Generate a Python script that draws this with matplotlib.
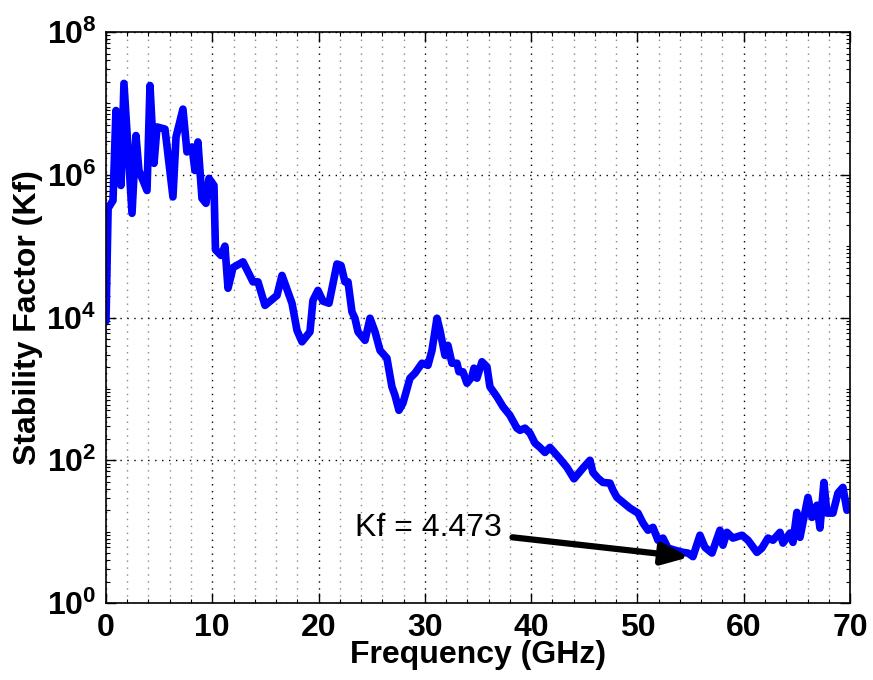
import numpy as np
import matplotlib
matplotlib.use("Agg")
import matplotlib.pyplot as plt
from matplotlib.ticker import FixedLocator, FixedFormatter, MultipleLocator, LogLocator, NullFormatter

plt.rcParams["font.family"] = ["Liberation Sans", "DejaVu Sans"]
plt.rcParams["mathtext.fontset"] = "custom"
plt.rcParams["mathtext.bf"] = "Liberation Sans:bold"
plt.rcParams["mathtext.rm"] = "Liberation Sans"

# frequency in GHz, stability factor (log10 values)
freq = [0.0, 0.2, 0.66, 0.94, 1.41, 1.69, 2.45, 2.82, 3.1, 3.86, 4.14, 4.52, 4.8, 5.55,
        6.3, 6.59, 7.24, 7.62, 8.09, 8.37, 8.65, 9.03, 9.41, 9.69, 10.16, 10.3, 10.82,
        11.19, 11.48, 11.95, 12.89, 13.83, 14.3, 14.96, 16.09, 16.56, 17.5, 17.97, 18.44,
        19.19, 19.47, 19.94, 20.41, 20.98, 21.73, 22.11, 22.48, 22.77, 23.14, 23.42, 23.71,
        24.37, 24.84, 25.31, 25.78, 26.43, 26.9, 27.19, 27.56, 27.94, 28.6, 29.07, 29.73,
        30.29, 30.67, 31.14, 31.42, 31.89, 32.17, 32.55, 33.02, 33.21, 33.58, 33.96, 34.43,
        34.62, 34.9, 35.37, 35.84, 36.12, 36.78, 37.35, 38.0, 38.66, 38.95, 39.42, 39.89,
        40.36, 40.83, 41.3, 41.77, 42.24, 42.71, 43.37, 44.03, 44.87, 45.53, 45.81, 46.28,
        46.75, 47.41, 47.7, 48.07, 48.64, 49.29, 50.05, 50.52, 50.99, 51.46, 51.93, 52.4,
        52.87, 53.53, 54.28, 54.75, 55.22, 55.88, 56.35, 57.01, 57.76, 58.04, 58.42, 58.98,
        59.83, 60.4, 61.24, 61.71, 62.28, 62.75, 63.41, 63.69, 64.35, 64.63, 65.0, 65.29,
        66.04, 66.42, 66.89, 67.17, 67.54, 67.83, 68.39, 68.86, 69.33, 69.71, 70.0]
kf_log = [3.95, 5.53, 5.64, 6.9, 5.85, 7.28, 5.46, 6.55, 6.06, 5.78, 7.25, 6.16, 6.67, 6.64,
          5.69, 6.53, 6.92, 6.32, 6.39, 6.06, 6.46, 5.67, 5.6, 5.95, 5.85, 4.95, 4.87,
          5.0, 4.41, 4.7, 4.78, 4.5, 4.5, 4.17, 4.31, 4.59, 4.2, 3.82, 3.66,
          3.8, 4.24, 4.38, 4.23, 4.2, 4.75, 4.73, 4.5, 4.5, 4.08, 3.99, 3.8,
          3.68, 3.99, 3.8, 3.54, 3.43, 3.03, 2.91, 2.7, 2.8, 3.15, 3.22, 3.36,
          3.33, 3.54, 3.99, 3.82, 3.47, 3.61, 3.36, 3.36, 3.24, 3.24, 3.08, 3.17,
          3.29, 3.15, 3.38, 3.31, 3.03, 2.89, 2.75, 2.63, 2.45, 2.42, 2.45, 2.38,
          2.24, 2.18, 2.11, 2.18, 2.1, 2.02, 1.9, 1.74, 1.89, 2.0, 1.83, 1.75,
          1.69, 1.68, 1.58, 1.48, 1.41, 1.33, 1.26, 1.12, 1.02, 1.06, 0.88, 0.91,
          0.77, 0.74, 0.71, 0.7, 0.65, 0.95, 0.78, 0.7, 1.02, 0.81, 0.99, 0.91,
          0.95, 0.88, 0.71, 0.77, 0.91, 0.88, 0.99, 0.84, 0.98, 0.85, 1.27, 0.92,
          1.48, 1.2, 1.37, 1.05, 1.69, 1.26, 1.26, 1.54, 1.62, 1.3, 1.32]

kf = 10 ** np.array(kf_log)

ytick_vals = [1e0, 1e2, 1e4, 1e6, 1e8]
ytick_labels = [r"$\mathbf{10^{0}}$", r"$\mathbf{10^{2}}$", r"$\mathbf{10^{4}}$",
                r"$\mathbf{10^{6}}$", r"$\mathbf{10^{8}}$"]

fig = plt.figure(figsize=(8.73, 6.8), dpi=100)
ax = fig.add_axes([0.1214, 0.1132, 0.8523, 0.8397])

ax.semilogy(freq, kf, color="#0000ff", lw=5.5, solid_joinstyle="round",
            solid_capstyle="round")

ax.set_xlim(0, 70)
ax.set_ylim(1e0, 1e8)

ax.xaxis.set_major_locator(MultipleLocator(10))
ax.xaxis.set_minor_locator(MultipleLocator(2))
ax.yaxis.set_major_locator(FixedLocator(ytick_vals))
ax.yaxis.set_major_formatter(FixedFormatter(ytick_labels))
ax.yaxis.set_minor_locator(LogLocator(base=10, subs=np.arange(1, 10), numticks=20))
ax.yaxis.set_minor_formatter(NullFormatter())

dots = (0, (1, 4))
ax.grid(True, which="major", axis="x", color="black", ls=dots, lw=1)
ax.grid(True, which="minor", axis="x", color="#888888", ls=dots, lw=1)
ax.grid(True, which="major", axis="y", color="black", ls=dots, lw=1)

ax.tick_params(which="both", direction="in", top=True, right=True)
ax.tick_params(which="major", length=7, width=1, labelsize=23, pad=7)
ax.tick_params(which="minor", length=3, width=0.8)
for lab in ax.get_xticklabels():
    lab.set_fontweight("bold")
for sp in ax.spines.values():
    sp.set_linewidth(1.2)

ax.set_xlabel("Frequency (GHz)", fontsize=23, fontweight="bold", labelpad=-2)
ax.set_ylabel("Stability Factor (Kf)", fontsize=23, fontweight="bold", labelpad=2)

ax.annotate("Kf = 4.473", xy=(54.9, 4.4), xytext=(30.3, 11.3),
            fontsize=23, ha="center", va="center",
            arrowprops=dict(arrowstyle="-|>,head_length=0.8,head_width=0.32",
                            color="black", lw=4.5, shrinkA=6, shrinkB=0,
                            mutation_scale=20))

fig.savefig("out.png", dpi=100)
